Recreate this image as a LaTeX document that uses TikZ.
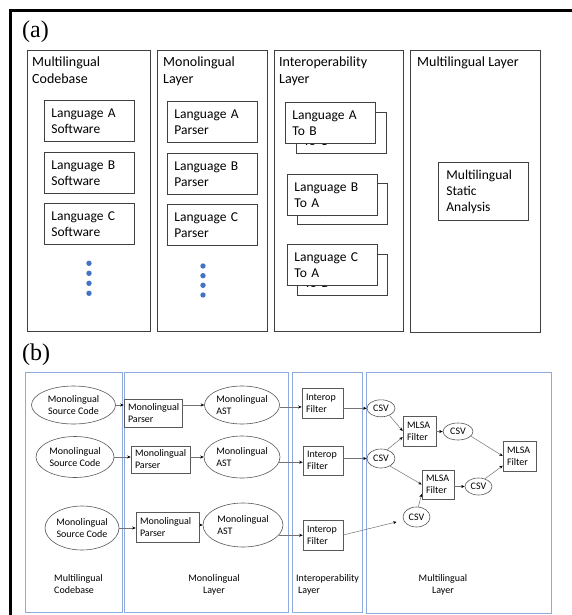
\documentclass[tikz,border=0pt]{standalone}
\usepackage{fontspec}
\setmainfont{Carlito}
\newfontfamily\serifx{Liberation Serif}
\usetikzlibrary{arrows.meta,shapes.geometric}
\definecolor{lblue}{HTML}{8FAADC}
\definecolor{dotblue}{HTML}{4472C4}
\definecolor{edgec}{HTML}{404040}
\begin{document}
\begin{tikzpicture}[x=1pt,y=-1pt,
 colbox/.style={draw=edgec,line width=0.8pt,anchor=north west,inner sep=0pt},
 ttl/.style={anchor=north west,inner sep=0pt,align=left,font=\fontsize{14}{17}\selectfont},
 abox/.style={draw=edgec,line width=0.8pt,fill=white,anchor=north west,minimum width=90pt,minimum height=41pt,text width=76pt,inner xsep=7pt,inner ysep=0pt,align=left,font=\fontsize{13.5}{16}\selectfont},
 bbox/.style={draw=lblue,line width=0.9pt,anchor=north west,inner sep=0pt},
 bell/.style={ellipse,draw=black!65,line width=0.6pt,inner sep=0pt,font=\fontsize{10}{12}\selectfont},
 brect/.style={rectangle,draw=black!65,line width=0.6pt,inner xsep=4pt,inner ysep=0pt,align=left,font=\fontsize{10}{12}\selectfont},
 blab/.style={inner sep=0pt,anchor=north west,align=left,font=\fontsize{10}{12}\selectfont},
 arr/.style={draw=black!55,line width=0.5pt,-{Stealth[length=3.5pt,width=3pt,color=black]}},
 plabel/.style={inner sep=0pt,anchor=base west,font=\serifx\fontsize{24}{24}\selectfont},
 bdot/.style={fill=dotblue}
]
\useasboundingbox (0,0) rectangle (572,615);
\fill[white] (0,0) rectangle (572,615);
\draw[line width=2.7pt] (572,10.3) -- (10.3,10.3) -- (10.3,615);

% ---------------- (a)
\node[plabel] (la) at (22,38) {(a)};
\node[colbox,minimum width=123pt,minimum height=281pt] (c1) at (27,50) {};
\node[colbox,minimum width=110pt,minimum height=281pt] (c2) at (157,50) {};
\node[colbox,minimum width=129pt,minimum height=281pt] (c3) at (274,50) {};
\node[colbox,minimum width=130pt,minimum height=282pt] (c4) at (410,50) {};
\node[ttl] (t1) at (32,56.5) {Multilingual\\Codebase};
\node[ttl] (t2) at (163,56.5) {Monolingual\\Layer};
\node[ttl] (t3) at (279,56.5) {Interoperability\\Layer};
\node[ttl] (t4) at (417,56.5) {Multilingual Layer};

\node[abox] (sa) at (44,100) {Language A\\Software};
\node[abox] (sb) at (44,152) {Language B\\Software};
\node[abox] (sc) at (44,203) {Language C\\Software};
\foreach \yy in {263.3,273.3,283.3,293.3} \fill[bdot] (89,\yy) circle (2.7pt);

\node[abox] (pa) at (167,101) {Language A\\Parser};
\node[abox] (pb) at (167,153) {Language B\\Parser};
\node[abox] (pc) at (167,204) {Language C\\Parser};
\foreach \yy in {266,275.7,285.3,295} \fill[bdot] (203,\yy) circle (2.7pt);

\node[abox] (ia2) at (296,112) {Language A\\To C};
\node[abox] (ia1) at (285,102) {Language A\\To B};
\node[abox] (ib2) at (297,183) {Language B\\To C};
\node[abox] (ib1) at (287,174) {Language B\\To A};
\node[abox] (ic2) at (297,254) {Language C\\To B};
\node[abox] (ic1) at (287,244) {Language C\\To A};

\node[abox,minimum height=58pt,inner xsep=8pt,text width=74pt] (msa) at (438,162) {Multilingual\\Static\\Analysis};

% ---------------- (b)
\node[plabel] (lb) at (22,360) {(b)};
\node[bbox,minimum width=97pt,minimum height=240pt] (b1) at (25,372) {};
\node[bbox,minimum width=164pt,minimum height=240pt] (b2) at (124,372) {};
\node[bbox,minimum width=70pt,minimum height=240pt] (b3) at (292,372) {};
\node[bbox,minimum width=185pt,minimum height=241pt] (b4) at (366,372) {};

\node[bell,align=center,minimum width=84pt,minimum height=38pt] (e1) at (73.5,405) {Monolingual\\Source Code};
\node[bell,align=center,minimum width=78pt,minimum height=41pt] (e2) at (75,457) {Monolingual\\Source Code};
\node[bell,align=center,minimum width=74pt,minimum height=44pt] (e3) at (82,528) {Monolingual\\Source Code};

\node[brect,text width=50pt,minimum height=28pt] (p1) at (153,413) {Monolingual\\Parser};
\node[brect,text width=51pt,minimum height=27pt] (p2) at (160.5,459.5) {Monolingual\\Parser};
\node[brect,text width=55pt,minimum height=30pt] (p3) at (167.5,527) {Monolingual\\Parser};

\node[bell,align=left,minimum width=75pt,minimum height=38pt] (a1) at (242,405) {Monolingual\\AST};
\node[bell,align=left,minimum width=76pt,minimum height=42pt] (a2) at (242,457) {Monolingual\\AST};
\node[bell,align=left,minimum width=80pt,minimum height=44pt] (a3) at (243,525) {Monolingual\\AST};

\node[brect,text width=33pt,minimum height=30pt] (i1) at (322.5,403) {Interop\\Filter};
\node[brect,text width=32pt,minimum height=29pt] (i2) at (323,460.5) {Interop\\Filter};
\node[brect,text width=32pt,minimum height=30pt] (i3) at (323,535) {Interop\\Filter};

\node[bell,minimum width=28pt,minimum height=17pt] (v1) at (381,408.3) {CSV};
\node[bell,minimum width=28pt,minimum height=19pt] (v3) at (381,458.5) {CSV};
\node[bell,minimum width=30pt,minimum height=17pt] (v2) at (458,431.5) {CSV};
\node[bell,minimum width=27pt,minimum height=17pt] (v4) at (478.5,486.5) {CSV};
\node[bell,minimum width=27pt,minimum height=20pt] (v5) at (416.5,517) {CSV};

\node[brect,text width=25pt,minimum height=30pt] (m1) at (419.5,431) {MLSA\\Filter};
\node[brect,text width=24pt,minimum height=29pt] (m2) at (438,484.5) {MLSA\\Filter};
\node[brect,text width=25pt,minimum height=30pt] (mr) at (519.5,456) {MLSA\\Filter};

\node[blab] (l1) at (54,574.5) {Multilingual\\Codebase};
\node[blab,anchor=north,align=center] (l2) at (214,574.5) {Monolingual\\Layer};
\node[blab] (l3) at (296,574.5) {Interoperability\\\hspace*{2pt}Layer};
\node[blab,anchor=north,align=center] (l4) at (443,574.5) {Multilingual\\Layer};

% arrows
\draw[arr] (e1.east) -- (e1.east -| p1.west);
\draw[arr] (e2.east) -- (e2.east -| p2.west);
\draw[arr] (e3.east) -- (e3.east -| p3.west);
\draw[arr] (a1.west -| p1.east) -- (a1.west);
\draw[arr] (a2.west -| p2.east) -- (a2.west);
\draw[arr] (a3.west -| p3.east) -- (a3.west);
\draw[arr] (a1.-3) -- (a1.-3 -| i1.west);
\draw[arr] (a2.-8) -- (a2.-8 -| i2.west);
\draw[arr] (a3.-16) -- (a3.-16 -| i3.west);
\draw[arr] (v1.west -| i1.east) -- (v1.west);
\draw[arr] (v3.west -| i2.east) -- (v3.west);
\draw[arr,shorten >=7pt] (i3.east) -- (v5);
\draw[arr] (v1.-40) -- (m1.west);
\draw[arr] (v3.55) -- (m1.200);
\draw[arr] (v3.-40) -- (m2.west);
\draw[arr] (v5.80) -- (m2.210);
\draw[arr] (v2.west -| m1.east) -- (v2.west);
\draw[arr] (v4.west -| m2.east) -- (v4.west);
\draw[arr] (v2.-20) -- (mr.west);
\draw[arr] (v4.50) -- (mr.210);
\end{tikzpicture}
\end{document}
